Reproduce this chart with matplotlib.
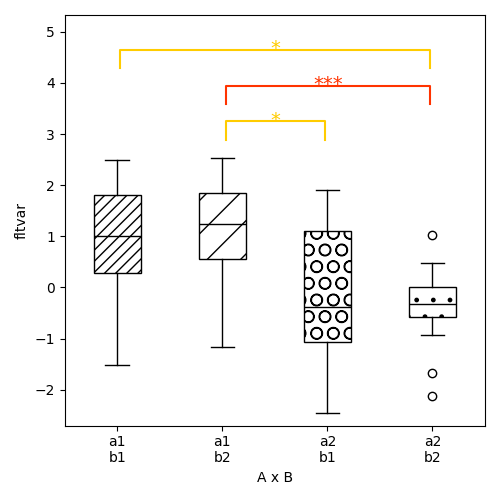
import matplotlib
matplotlib.use("Agg")
import matplotlib.pyplot as plt

labels = ["a1\nb1", "a1\nb2", "a2\nb1", "a2\nb2"]
hatches = ["///", "/", "O", "."]
whislo = [-1.51, -1.17, -2.46, -0.92]
q1 = [0.28, 0.56, -1.06, -0.57]
med = [1.00, 1.24, -0.38, -0.32]
q3 = [1.81, 1.85, 1.10, 0.01]
whishi = [2.50, 2.53, 1.91, 0.48]
fliers = [[], [], [], [1.03, -1.67, -2.13]]

# brackets: (from box, to box, y line, stars, colour)
brackets = [
    (1, 4, 4.65, "*", "#FFCC00"),
    (2, 4, 3.95, "***", "#FF3300"),
    (2, 3, 3.25, "*", "#FFCC00"),
]
tick_drop = 0.36

stats = []
for i in range(len(labels)):
    stats.append({"whislo": whislo[i], "q1": q1[i], "med": med[i],
                  "q3": q3[i], "whishi": whishi[i], "fliers": fliers[i]})

fig, ax = plt.subplots(figsize=(5, 5), dpi=100)
bp = ax.bxp(stats, patch_artist=True, widths=0.45,
            medianprops={"color": "black"},
            flierprops={"marker": "o", "markerfacecolor": "none",
                        "markeredgecolor": "black"})
for box, h in zip(bp["boxes"], hatches):
    box.set_facecolor("white")
    box.set_edgecolor("black")
    box.set_hatch(h)

for x1, x2, y, txt, col in brackets:
    xa, xb = x1 + 0.03, x2 - 0.02
    ax.plot([xa, xa, xb, xb], [y - tick_drop, y, y, y - tick_drop],
            color=col, lw=1.5)
    ax.text((xa + xb) / 2, y - 0.17, txt, color=col, ha="center",
            va="bottom", fontsize=14)

ax.set_xticks([1, 2, 3, 4])
ax.set_xticklabels(labels)
ax.set_xlim(0.5, 4.5)
ax.set_ylim(-2.7, 5.33)
ax.set_xlabel("A x B")
ax.set_ylabel("fltvar")
plt.tight_layout()
plt.savefig("out.png")
plt.close()
